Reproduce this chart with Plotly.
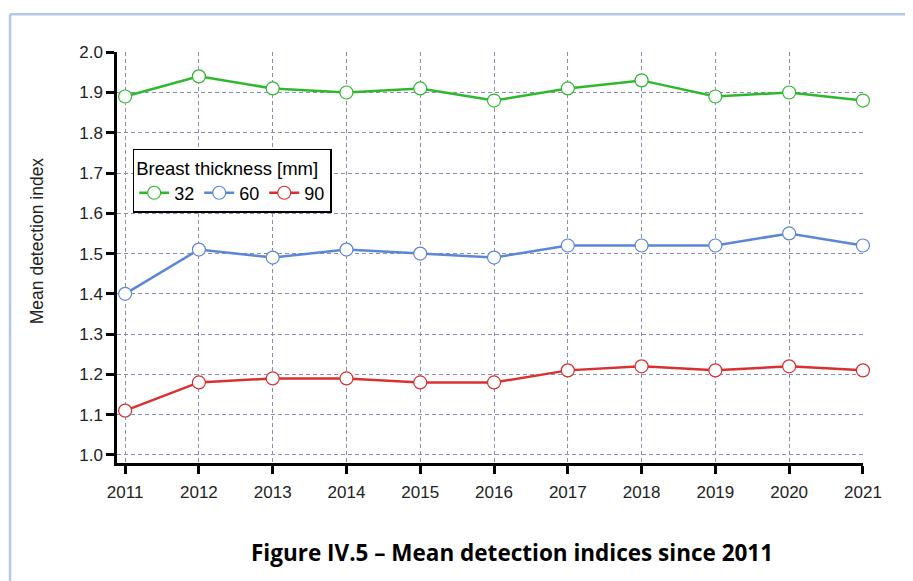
import plotly.graph_objects as go

years = [2011, 2012, 2013, 2014, 2015, 2016, 2017, 2018, 2019, 2020, 2021]
thick_32 = [1.89, 1.94, 1.91, 1.90, 1.91, 1.88, 1.91, 1.93, 1.89, 1.90, 1.88]
thick_60 = [1.40, 1.51, 1.49, 1.51, 1.50, 1.49, 1.52, 1.52, 1.52, 1.55, 1.52]
thick_90 = [1.11, 1.18, 1.19, 1.19, 1.18, 1.18, 1.21, 1.22, 1.21, 1.22, 1.21]

series = [
    ("32", thick_32, "#2eb82e"),
    ("60", thick_60, "#5c86d6"),
    ("90", thick_90, "#d93030"),
]

fig = go.Figure()
for name, vals, col in series:
    fig.add_trace(go.Scatter(
        x=years, y=vals, name=name, mode="lines+markers",
        line=dict(color=col, width=2.5),
        marker=dict(size=13, color="white", line=dict(color=col, width=1.2)),
        cliponaxis=False,
    ))

# light blue frame: only left and top edges are visible in the page
frame = dict(color="#b4c7e7", width=2.5)
fig.add_shape(type="line", xref="paper", yref="paper",
              x0=-0.1434, x1=-0.1434, y0=-0.6, y1=1.092, line=frame, layer="below")
fig.add_shape(type="line", xref="paper", yref="paper",
              x0=-0.1434, x1=1.3, y0=1.092, y1=1.092, line=frame, layer="below")

fig.add_annotation(text="<b>Figure IV.5 – Mean detection indices since 2011</b>",
                   xref="paper", yref="paper", x=0.53, y=-0.217,
                   showarrow=False, xanchor="center", yanchor="middle",
                   font=dict(family="Open Sans", size=22.5, color="black"))

fig.add_annotation(text="Mean detection index", textangle=-90,
                   xref="paper", yref="paper", x=-0.107, y=0.54,
                   showarrow=False, xanchor="center", yanchor="middle",
                   font=dict(family="Liberation Sans, Arial", size=17.5, color="#222"))

tick_font = dict(family="Liberation Sans, Arial", size=17, color="#222")

axis_common = dict(
    showline=True, linecolor="black", linewidth=2.5,
    ticks="outside", ticklen=8, tickwidth=2.5, tickcolor="black",
    showgrid=True, gridcolor="#8c8cb4", gridwidth=1, griddash="4px,3px",
    zeroline=False,
    tickfont=tick_font,
)

fig.update_xaxes(range=[2010.89, 2021.001], tickvals=years, ticklabelstandoff=4, **axis_common)
fig.update_yaxes(range=[0.98, 2.0005], dtick=0.1, tickformat=".1f", **axis_common)

fig.update_layout(
    width=905, height=573,
    margin=dict(l=109, r=50, t=44, b=118),
    paper_bgcolor="white", plot_bgcolor="white",
    font=dict(family="Liberation Sans, Arial", size=16, color="#222"),
    legend=dict(
        title=dict(text="Breast thickness [mm]", side="top",
                   font=dict(size=18.5, color="black")),
        orientation="h", x=0.021, y=0.764, xanchor="left", yanchor="top",
        bordercolor="black", borderwidth=1.5, bgcolor="white",
        font=dict(size=18, color="black"),
        itemwidth=30, tracegroupgap=0,
    ),
)

fig.write_html("out.html")
